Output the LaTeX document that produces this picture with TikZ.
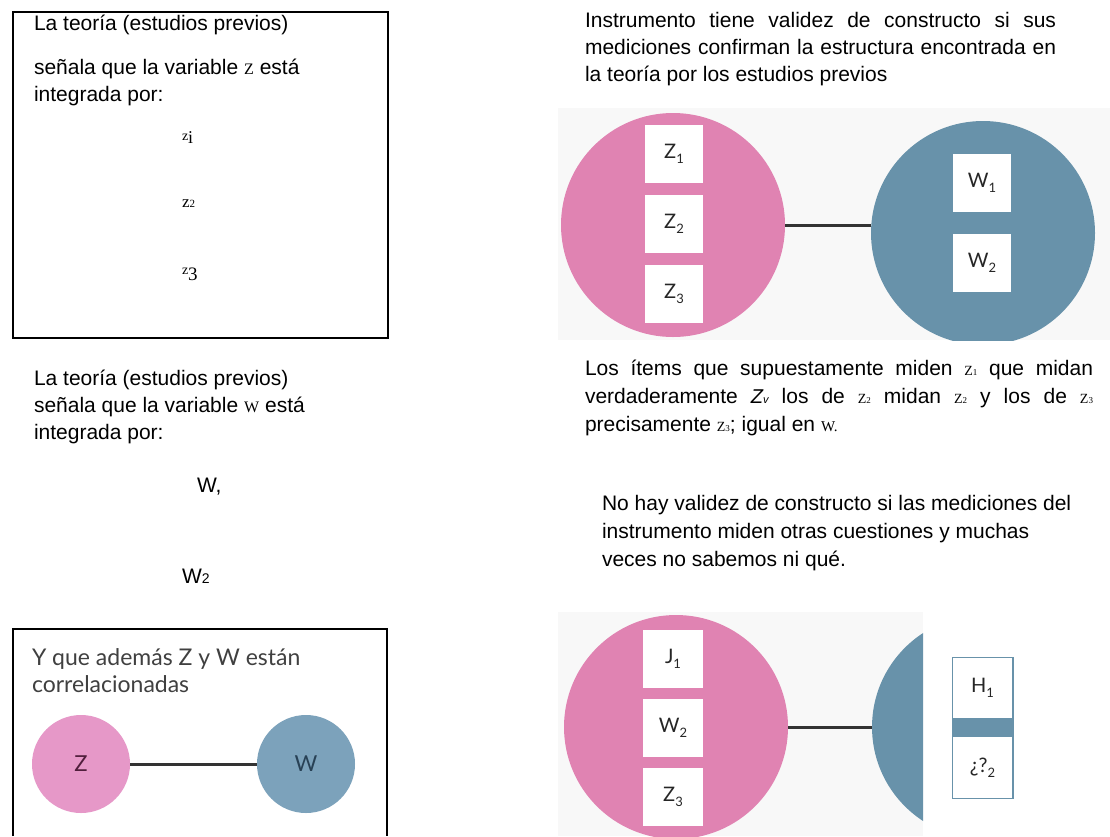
\documentclass[tikz,border=0pt]{standalone}
\usepackage{fontspec}
\setmainfont{Liberation Sans}
\newfontfamily\serifm{Liberation Serif}
\newfontfamily\figf{Lato}
\definecolor{pinkA}{RGB}{224,131,178}
\definecolor{blueA}{RGB}{104,146,170}
\definecolor{pinkB}{RGB}{230,152,200}
\definecolor{blueB}{RGB}{124,162,187}
\definecolor{bgA}{RGB}{248,248,248}
\definecolor{darkZ}{RGB}{80,30,60}
\definecolor{darkW}{RGB}{40,65,85}
\newcommand{\sm}[2]{{\serifm\fontsize{#1}{#1}\selectfont #2}}
\newcommand{\fsub}[1]{\raisebox{-5pt}{\fontsize{13}{13}\selectfont #1}}
\begin{document}
\begin{tikzpicture}[x=1pt,y=-1pt,
  every node/.style={inner sep=0pt, outer sep=0pt},
  txt/.style={anchor=base west, font=\fontsize{21}{26}\selectfont},
  fig/.style={font=\figf\fontsize{20}{20}\selectfont, text=black!85},
  cell/.style={fig, fill=white, minimum width=58pt, minimum height=58pt},
  bigcirc/.style={circle, minimum size=224pt},
  smallcirc/.style={circle, minimum size=98pt},
  link/.style={line width=3pt, black!80}]
\useasboundingbox (0,0) rectangle (1110,836);
\fill[white] (0,0) rectangle (1110,836);

% ---------- top-left box ----------
\draw[line width=1.5pt] (13,12) rectangle (388,338);
\node[txt] (t1) at (34,30) {La teoría (estudios previos)};
\node[txt] (t2) at (34,74) {señala que la variable \sm{16}{Z} está};
\node[txt] (t3) at (34,101) {integrada por:};
\node[anchor=base west] (z1) at (182,143) {\sm{14}{\raisebox{3pt}{z}}\sm{18}{i}};
\node[anchor=base west] (z2) at (182,207) {\sm{17}{z}\sm{11}{2}};
\node[anchor=base west] (z3) at (182,280) {\sm{14}{\raisebox{6pt}{z}}\sm{19}{3}};

% ---------- middle-left text ----------
\node[txt] (m1) at (34,385) {La teoría (estudios previos)};
\node[txt] (m2) at (34,412) {señala que la variable \sm{16}{W} está};
\node[txt] (m3) at (34,439) {integrada por:};
\node[txt] (w1) at (197,492) {W,};
\node[txt] (w2) at (182,583) {W{\fontsize{14}{14}\selectfont 2}};

% ---------- bottom-left box ----------
\draw[line width=1.5pt] (13,836) -- (13,629) -- (387,629) -- (387,836);
\node[anchor=base west, font=\figf\fontsize{23}{27}\selectfont, text=black!75] (y1) at (32,665) {Y que además Z y W están};
\node[anchor=base west, font=\figf\fontsize{23}{27}\selectfont, text=black!75] (y2) at (32,692) {correlacionadas};
\node[smallcirc, fill=pinkB, font=\figf\fontsize{22}{22}\selectfont, text=darkZ] (cz) at (81,764) {Z};
\node[smallcirc, fill=blueB, font=\figf\fontsize{22}{22}\selectfont, text=darkW] (cw) at (306,764) {W};
\draw[link] (cz) -- (cw);

% ---------- top-right ----------
\node[txt] (r1) at (585,27) {\makebox[471pt][s]{Instrumento tiene validez de constructo si sus}};
\node[txt] (r2) at (585,54) {\makebox[471pt][s]{mediciones confirman la estructura encontrada en}};
\node[txt] (r3) at (585,81) {la teoría por los estudios previos};

\begin{scope}
\clip (555,108) rectangle (1110,340);
\fill[bgA] (558,108) rectangle (1110,340);
\node[bigcirc, fill=pinkA] (pz) at (673,225) {};
\node[bigcirc, fill=blueA] (bw) at (983,233) {};
\end{scope}
\draw[link] (pz.east) -- (pz.east -| bw.west);
\node[cell] (zz1) at (674,154) {Z\fsub{1}};
\node[cell] (zz2) at (674,224) {Z\fsub{2}};
\node[cell] (zz3) at (674,294) {Z\fsub{3}};
\node[cell] (ww1) at (982,183) {W\fsub{1}};
\node[cell] (ww2) at (982,263) {W\fsub{2}};

% ---------- middle-right text ----------
\node[txt] (l1) at (585,375) {\makebox[508pt][s]{Los ítems que supuestamente miden \sm{14}{Z\fontsize{9}{9}\selectfont 1} que midan}};
\node[txt] (l2) at (585,403) {\makebox[508pt][s]{verdaderamente {\fontsize{20}{20}\selectfont\itshape Z\fontsize{11}{11}\selectfont v} los de \sm{14}{Z\fontsize{9}{9}\selectfont 2} midan \sm{14}{Z\fontsize{9}{9}\selectfont 2} y los de \sm{14}{Z\fontsize{9}{9}\selectfont 3}}};
\node[txt] (l3) at (585,431) {precisamente \sm{14}{Z\fontsize{9}{9}\selectfont 3};\ igual en \sm{15}{W.}};

\node[txt] (n1) at (602,510) {No hay validez de constructo si las mediciones del};
\node[txt] (n2) at (602,538) {instrumento miden otras cuestiones y muchas};
\node[txt] (n3) at (602,566) {veces no sabemos ni qué.};

% ---------- bottom-right ----------
\begin{scope}
\clip (558,612) rectangle (923,836);
\fill[bgA] (558,612) rectangle (923,836);
\node[bigcirc, fill=pinkA] (pj) at (676,727) {};
\node[bigcirc, fill=blueA] (bh) at (984,727) {};
\end{scope}
\draw[link] (pj) -- (bh);
\node[cell, minimum width=60pt] (j1) at (673,659) {J\fsub{1}};
\node[cell, minimum width=60pt] (j2) at (673,728) {W\fsub{2}};
\node[cell, minimum width=60pt] (j3) at (673,797) {Z\fsub{3}};
\node[fill=blueA, draw=blueA, line width=1pt, minimum width=61pt, minimum height=141pt] (hb) at (982.5,727.5) {};
\node[cell, minimum width=59pt, minimum height=60pt] (h1) at (982.5,688) {H\fsub{1}};
\node[cell, minimum width=59pt, minimum height=61pt] (h2) at (982.5,767.5) {¿?\fsub{2}};
\end{tikzpicture}
\end{document}
